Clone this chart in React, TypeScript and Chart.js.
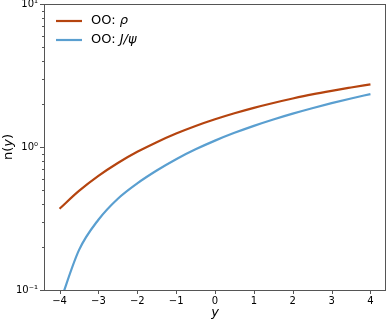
import React, { useEffect, useRef } from "react";
import { Chart, registerables } from "chart.js";

Chart.register(...registerables);

const xValues = [-4, -3.5, -3, -2.5, -2, -1.5, -1, -0.5, 0, 0.5, 1, 1.5, 2, 2.5, 3, 3.5, 4];
const rhoValues = [0.37, 0.493, 0.628, 0.773, 0.925, 1.081, 1.242, 1.403, 1.563, 1.722, 1.879, 2.032, 2.183, 2.333, 2.472, 2.606, 2.742];
const jpsiValues = [0.08, 0.19, 0.31, 0.435, 0.557, 0.685, 0.822, 0.963, 1.108, 1.256, 1.406, 1.558, 1.712, 1.868, 2.026, 2.185, 2.345];
const xTicks = [-4, -3, -2, -1, 0, 1, 2, 3, 4];
const yMajorTicks = [0.1, 1, 10];
const yTickLabels = ["10\u207B\u00B9", "10\u2070", "10\u00B9"];
const seriesPrefix = ["OO: ", "OO: "];
const seriesItalic = ["\u03C1", "J/\u03C8"];
const colors = ["#b5440f", "#5a9fd0"];

const FONT = "'DejaVu Sans', sans-serif";

function yAllTicks(): number[] {
  const out: number[] = [];
  for (const d of [0.1, 1]) {
    for (let m = 1; m <= 9; m++) out.push(+(m * d).toFixed(3));
  }
  out.push(10);
  return out;
}

const decorPlugin = {
  id: "decor",
  afterDraw(chart: any) {
    const { ctx, chartArea, scales } = chart;
    const { left, right, top, bottom } = chartArea;
    ctx.save();
    // frame
    ctx.strokeStyle = "#555";
    ctx.lineWidth = 1;
    ctx.strokeRect(left + 0.5, top + 0.5, right - left - 1, bottom - top);
    // x ticks
    ctx.beginPath();
    for (const v of xTicks) {
      const px = Math.round(scales.x.getPixelForValue(v)) + 0.5;
      ctx.moveTo(px, bottom);
      ctx.lineTo(px, bottom + 4);
    }
    // y ticks
    for (const v of yAllTicks()) {
      const py = Math.round(scales.y.getPixelForValue(v)) + 0.5;
      const major = yMajorTicks.some((m) => Math.abs(m - v) < 1e-9);
      ctx.moveTo(left, py);
      ctx.lineTo(left - (major ? 4 : 2), py);
    }
    ctx.stroke();

    // legend
    ctx.textBaseline = "middle";
    const rows = [21, 40];
    rows.forEach((ry, i) => {
      ctx.strokeStyle = colors[i];
      ctx.lineWidth = 2.2;
      ctx.beginPath();
      ctx.moveTo(left + 12, ry);
      ctx.lineTo(left + 38, ry);
      ctx.stroke();
      ctx.fillStyle = "#000";
      ctx.font = `13px ${FONT}`;
      const tx = left + 47;
      ctx.fillText(seriesPrefix[i], tx, ry);
      const w = ctx.measureText(seriesPrefix[i]).width;
      ctx.font = `italic 13px ${FONT}`;
      ctx.fillText(seriesItalic[i], tx + w, ry);
    });

    // x title
    ctx.fillStyle = "#000";
    ctx.font = `italic 13px ${FONT}`;
    ctx.textAlign = "center";
    ctx.fillText("y", (left + right) / 2, 313);

    // y title
    ctx.translate(9, (top + bottom) / 2);
    ctx.rotate(-Math.PI / 2);
    const a = "n(";
    const b = "y";
    const c = ")";
    ctx.font = `13px ${FONT}`;
    const wa = ctx.measureText(a).width;
    const wc = ctx.measureText(c).width;
    ctx.font = `italic 13px ${FONT}`;
    const wb = ctx.measureText(b).width;
    const total = wa + wb + wc;
    ctx.textAlign = "left";
    const x0 = -total / 2;
    ctx.font = `13px ${FONT}`;
    ctx.fillText(a, x0, 0);
    ctx.font = `italic 13px ${FONT}`;
    ctx.fillText(b, x0 + wa, 0);
    ctx.font = `13px ${FONT}`;
    ctx.fillText(c, x0 + wa + wb, 0);
    ctx.restore();
  },
};

export default function App() {
  const canvasRef = useRef<HTMLCanvasElement | null>(null);

  useEffect(() => {
    document.body.style.margin = "0";
    const canvas = canvasRef.current!;
    const chart = new Chart(canvas, {
      type: "line",
      data: {
        datasets: [
          {
            label: "OO: \u03C1",
            data: xValues.map((x, i) => ({ x, y: rhoValues[i] })),
            borderColor: colors[0],
            borderWidth: 2.2,
            pointRadius: 0,
            cubicInterpolationMode: "monotone",
          },
          {
            label: "OO: J/\u03C8",
            data: xValues.map((x, i) => ({ x, y: jpsiValues[i] })),
            borderColor: colors[1],
            borderWidth: 2.2,
            pointRadius: 0,
            cubicInterpolationMode: "monotone",
          },
        ],
      },
      options: {
        animation: false,
        responsive: false,
        maintainAspectRatio: false,
        layout: { padding: { left: 0, right: 1, top: 4, bottom: 0 } },
        plugins: { legend: { display: false }, tooltip: { enabled: false } },
        scales: {
          x: {
            type: "linear",
            min: -4.4,
            max: 4.4,
            afterBuildTicks: (scale: any) => {
              scale.ticks = xTicks.map((v) => ({ value: v }));
            },
            afterFit: (scale: any) => {
              scale.height = 32;
              scale.paddingLeft = 0;
              scale.paddingRight = 0;
            },
            grid: { display: false, drawTicks: false },
            border: { display: false },
            ticks: {
              padding: 5,
              color: "#000",
              font: { family: FONT, size: 10 },
              maxRotation: 0,
              autoSkip: false,
              callback: (v: any) => {
                const n = Number(v);
                return n < 0 ? "\u2212" + Math.abs(n) : String(n);
              },
            },
          },
          y: {
            type: "logarithmic",
            min: 0.1,
            max: 10,
            afterBuildTicks: (scale: any) => {
              scale.ticks = yMajorTicks.map((v) => ({ value: v }));
            },
            afterFit: (scale: any) => {
              scale.width = 44;
              scale.paddingTop = 0;
              scale.paddingBottom = 0;
            },
            grid: { display: false, drawTicks: false },
            border: { display: false },
            ticks: {
              padding: 6,
              color: "#000",
              font: { family: FONT, size: 10 },
              autoSkip: false,
              callback: (v: any) => {
                const idx = yMajorTicks.findIndex((m) => Math.abs(m - Number(v)) < 1e-9);
                return idx >= 0 ? yTickLabels[idx] : "";
              },
            },
          },
        },
      },
      plugins: [decorPlugin],
    } as any);
    return () => chart.destroy();
  }, []);

  return (
    <div style={{ width: 387, height: 322 }}>
      <canvas ref={canvasRef} width={387} height={322} style={{ display: "block" }} />
    </div>
  );
}
